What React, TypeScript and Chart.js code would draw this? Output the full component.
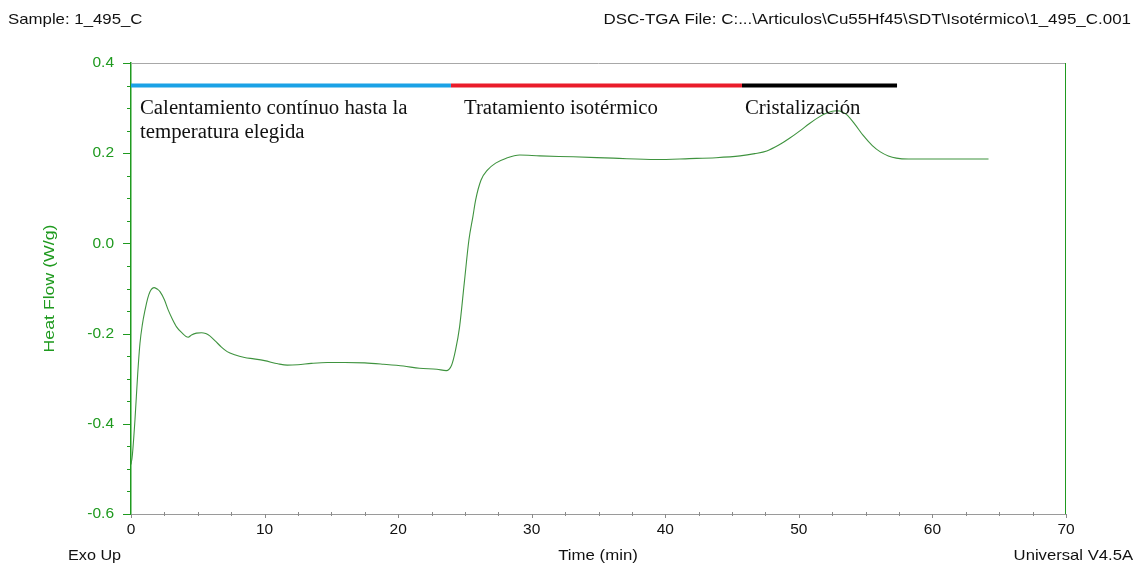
import React, { useEffect, useRef } from "react";
import { Chart, registerables } from "chart.js";

Chart.register(...registerables);

// ---- Data ----
const timeMin = [
  0.0, 0.1, 0.3, 0.5, 0.67, 0.85, 1.05, 1.25, 1.42, 1.74, 2.0, 2.17, 2.5, 2.79, 3.1, 3.41, 3.8, 4.28, 4.53, 4.9,
  5.28, 5.6, 5.9, 6.3, 6.77, 7.2, 7.76, 8.5, 9.2, 10.0, 11.0, 11.7, 12.5, 13.5, 14.7, 16.0, 17.5, 18.9, 20.4, 21.6,
  22.9, 23.6, 24.0, 24.3, 24.6, 24.95, 25.3, 25.6, 25.8, 26.2, 26.7, 27.3, 28.1, 29.1, 30.6, 33.1, 36.1, 39.3, 41.8, 43.8,
  45.6, 46.7, 47.6, 48.5, 49.3, 50.1, 50.8, 51.5, 52.1, 52.8, 53.3, 53.6, 54.2, 54.8, 55.5, 56.1, 56.7, 57.3, 58.2, 59.3,
  61.5, 64.2,
];
const heatFlow = [
  -0.49, -0.47, -0.39, -0.29, -0.222, -0.18, -0.148, -0.122, -0.107, -0.098, -0.102, -0.107, -0.125, -0.148, -0.168, -0.185, -0.198, -0.208, -0.203, -0.199,
  -0.198, -0.2, -0.205, -0.216, -0.23, -0.24, -0.247, -0.253, -0.256, -0.26, -0.267, -0.27, -0.269, -0.266, -0.264, -0.264, -0.265, -0.268, -0.272, -0.277,
  -0.279, -0.282, -0.27, -0.236, -0.185, -0.088, 0.008, 0.06, 0.096, 0.14, 0.163, 0.178, 0.189, 0.196, 0.194, 0.192, 0.189, 0.186, 0.188, 0.19,
  0.194, 0.199, 0.205, 0.218, 0.233, 0.25, 0.266, 0.28, 0.289, 0.294, 0.291, 0.285, 0.264, 0.24, 0.217, 0.203, 0.194, 0.189, 0.187, 0.187,
  0.187, 0.187,
];

const phaseNames = ["Calentamiento contínuo hasta la|temperatura elegida", "Tratamiento isotérmico", "Cristalización"];
const phaseStart = [0, 23.95, 45.74];
const phaseEnd = [23.95, 45.74, 57.35];
const phaseLevel = 0.35;

const xTickValues = [0, 10, 20, 30, 40, 50, 60, 70];
const yTickValues = [-0.6, -0.4, -0.2, 0.0, 0.2, 0.4];

const headerLeft = "Sample: 1_495_C";
const headerRight = "DSC-TGA File: C:...\\Articulos\\Cu55Hf45\\SDT\\Isotérmico\\1_495_C.001";
const footerLeft = "Exo Up";
const xTitle = "Time (min)";
const footerRight = "Universal V4.5A";
const yTitle = "Heat Flow (W/g)";

// ---- Styles ----
const GREEN = "#1f9a1f";
const CURVE = "#3f933f";
const PHASE_COLORS = ["#1aa2e6", "#ea1c2a", "#000000"];
const SANS = '"Liberation Sans", Arial, sans-serif';
const SERIF = '"Liberation Serif", "Times New Roman", serif';
const PHASE_TEXT_OFFSET = [9, 13, 3];
const WIDE = 1.12; // the reference's sans text is slightly wider than Arial

function wideText(ctx: CanvasRenderingContext2D, text: string, x: number, y: number, align: CanvasTextAlign, sx: number) {
  ctx.save();
  ctx.translate(x, y);
  ctx.scale(sx, 1);
  ctx.textAlign = align;
  ctx.fillText(text, 0, 0);
  ctx.restore();
}

const decorPlugin = {
  id: "decor",
  afterDraw(chart: any) {
    const ctx = chart.ctx as CanvasRenderingContext2D;
    const xs = chart.scales.x;
    const ys = chart.scales.y;
    const { left, right, top, bottom } = chart.chartArea;
    ctx.save();

    // frame: top gray, right green
    ctx.lineWidth = 1;
    ctx.strokeStyle = "#a8a8a8";
    ctx.beginPath();
    ctx.moveTo(left, top + 0.5);
    ctx.lineTo(right, top + 0.5);
    ctx.stroke();
    ctx.strokeStyle = GREEN;
    ctx.beginPath();
    ctx.moveTo(right - 0.5, top);
    ctx.lineTo(right - 0.5, bottom);
    ctx.stroke();

    // y ticks: major every 0.2, minor every 0.05
    ctx.strokeStyle = GREEN;
    for (let i = 0; i <= 20; i++) {
      const v = -0.6 + i * 0.05;
      const py = Math.round(ys.getPixelForValue(v)) + 0.5;
      const len = i % 4 === 0 ? 8 : 4;
      ctx.beginPath();
      ctx.moveTo(left - len, py);
      ctx.lineTo(left, py);
      ctx.stroke();
    }
    // x ticks: major every 10, minor every 2.5
    ctx.strokeStyle = "#8a8a8a";
    for (let i = 0; i <= 28; i++) {
      const v = i * 2.5;
      const px = Math.round(xs.getPixelForValue(v)) + 0.5;
      const major = i % 4 === 0;
      ctx.beginPath();
      ctx.moveTo(px, major ? bottom : bottom - 2);
      ctx.lineTo(px, bottom + (major ? 4 : 2));
      ctx.stroke();
    }

    // phase annotations
    ctx.fillStyle = "#111";
    ctx.font = `20.8px ${SERIF}`;
    ctx.textAlign = "left";
    ctx.textBaseline = "alphabetic";
    const baseY = ys.getPixelForValue(phaseLevel) + 28;
    phaseNames.forEach((name, i) => {
      const px = xs.getPixelForValue(phaseStart[i]) + PHASE_TEXT_OFFSET[i];
      name.split("|").forEach((line, j) => {
        ctx.fillText(line, px, baseY + j * 24);
      });
    });

    // header / footer texts
    ctx.fillStyle = "#111";
    ctx.font = `15px ${SANS}`;
    wideText(ctx, headerLeft, 8, 24, "left", WIDE);
    wideText(ctx, headerRight, 1131, 24, "right", 1.13);
    wideText(ctx, footerLeft, 68, 560, "left", 1.08);
    wideText(ctx, xTitle, 598, 560, "center", WIDE);
    wideText(ctx, footerRight, 1133, 560, "right", 1.11);

    // y title
    ctx.fillStyle = GREEN;
    ctx.translate(54, (top + bottom) / 2);
    ctx.rotate(-Math.PI / 2);
    ctx.scale(1.18, 1);
    ctx.textAlign = "center";
    ctx.fillText(yTitle, 0, 0);
    ctx.restore();
  },
};

export default function App() {
  const ref = useRef<HTMLCanvasElement | null>(null);
  useEffect(() => {
    if (!ref.current) return;
    const curve = timeMin.map((t, i) => ({ x: t, y: heatFlow[i] }));
    const phases = phaseStart.map((s, i) => ({
      data: [
        { x: s, y: phaseLevel },
        { x: phaseEnd[i], y: phaseLevel },
      ],
      borderColor: PHASE_COLORS[i],
      borderWidth: 4,
      borderCapStyle: "butt" as const,
      pointRadius: 0,
      tension: 0,
    }));
    const chart = new Chart(ref.current, {
      type: "line",
      data: {
        datasets: [
          {
            data: curve,
            borderColor: CURVE,
            borderWidth: 1.1,
            pointRadius: 0,
            cubicInterpolationMode: "monotone",
          },
          ...phases,
        ],
      },
      options: {
        responsive: false,
        animation: false,
        events: [],
        layout: { padding: { left: 0, top: 63, right: 74, bottom: 0 } },
        plugins: { legend: { display: false }, tooltip: { enabled: false } },
        scales: {
          x: {
            type: "linear",
            min: 0,
            max: 70,
            afterFit: (s: any) => {
              s.height = 52;
            },
            afterBuildTicks: (s: any) => {
              s.ticks = xTickValues.map((v) => ({ value: v }));
            },
            grid: { display: false, drawTicks: false },
            border: { display: true, color: "#9a9a9a", width: 1 },
            ticks: {
              color: "#111",
              font: { family: SANS, size: 15.5 },
              padding: 6,
              maxRotation: 0,
              callback: (v: any) => String(v),
            },
          },
          y: {
            type: "linear",
            min: -0.6,
            max: 0.4,
            afterFit: (s: any) => {
              s.width = 131;
            },
            afterBuildTicks: (s: any) => {
              s.ticks = yTickValues.map((v) => ({ value: v }));
            },
            grid: { display: false, drawTicks: false },
            border: { display: true, color: GREEN, width: 1.5 },
            ticks: {
              color: GREEN,
              font: { family: SANS, size: 15.5 },
              padding: 17,
              callback: (v: any) => (Math.abs(Number(v)) < 1e-9 ? "0.0" : Number(v).toFixed(1)),
            },
          },
        },
      },
      plugins: [decorPlugin],
    });
    return () => chart.destroy();
  }, []);
  return (
    <div style={{ position: "absolute", left: 0, top: 0, width: 1140, height: 566, background: "#fff" }}>
      <canvas ref={ref} width={1140} height={566} style={{ display: "block", width: 1140, height: 566 }} />
    </div>
  );
}
